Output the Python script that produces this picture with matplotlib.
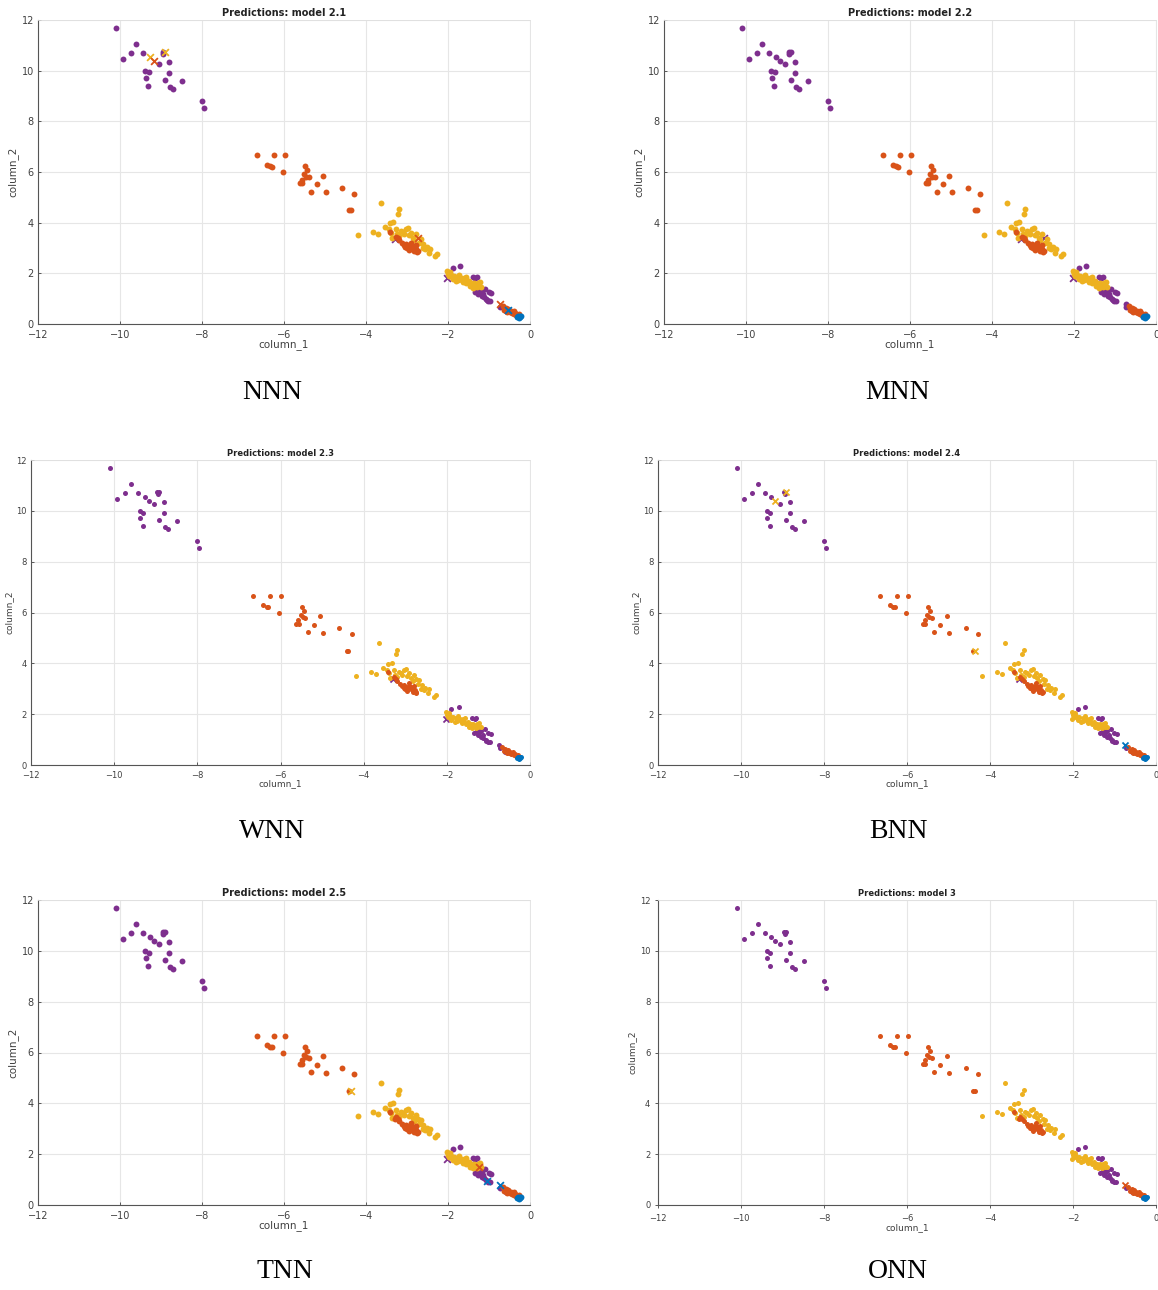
import matplotlib
matplotlib.use("Agg")
import matplotlib.pyplot as plt
import numpy as np

W, H = 1158, 1290

# MATLAB default colour order
colors = {"B": "#0072BD", "R": "#D95319", "Y": "#EDB120", "P": "#7E2F8E"}

# points that every model classifies correctly
purple_x = [-10.09, -9.92, -9.73, -9.60, -9.43, -9.38, -9.37, -9.30, -9.31, -8.96, -8.95,
            -9.05, -8.91, -8.81, -8.81, -8.77, -8.71, -8.48, -8.00, -7.95,
            -1.89, -1.71, -1.39, -1.30, -1.35, -1.22, -1.09, -1.01, -0.94, -1.17, -1.07,
            -1.02, -1.26, -1.14, -1.30, -1.18, -1.12, -0.97, -0.72, -0.59, -1.33, -1.25]
purple_y = [11.69, 10.45, 10.71, 11.04, 10.69, 9.99, 9.73, 9.93, 9.40, 10.73, 10.65,
            10.28, 9.65, 10.33, 9.90, 9.36, 9.29, 9.60, 8.80, 8.54,
            2.22, 2.30, 1.84, 1.86, 1.25, 1.27, 1.40, 1.25, 1.21, 1.11, 0.98,
            0.92, 1.18, 1.18, 1.30, 1.35, 1.05, 0.90, 0.66, 0.52, 1.80, 1.40]

yellow_x = [-4.19, -3.83, -3.71, -3.64, -3.53, -3.41, -3.33, -3.23, -3.19, -3.44, -3.27,
            -3.15, -3.02, -2.97, -2.90, -2.79, -2.67, -2.60, -2.52, -2.44, -2.46,
            -2.32, -2.27, -2.86, -3.36, -3.07, -3.19, -3.40, -3.10, -2.95, -2.82, -2.70,
            -2.55, -3.25, -2.62,
            -2.02, -2.00, -1.93, -1.85, -1.77, -1.68, -1.60, -1.56, -1.52, -1.43, -1.35,
            -1.22, -1.19, -1.89, -1.81, -1.64, -1.47, -1.39, -1.72, -1.98, -1.90, -1.75,
            -1.66, -1.55, -1.45, -1.30, -1.28, -1.62, -1.50, -1.36, -1.95]
yellow_y = [3.50, 3.65, 3.57, 4.79, 3.82, 3.97, 4.03, 4.35, 4.54, 3.74, 3.74,
            3.67, 3.74, 3.78, 3.61, 3.54, 3.34, 3.15, 3.02, 2.98, 2.82,
            2.69, 2.75, 3.41, 3.41, 3.54, 3.48, 3.61, 3.62, 3.50, 3.30, 3.20,
            2.95, 3.55, 3.00,
            2.10, 1.97, 1.93, 1.88, 1.84, 1.80, 1.74, 1.84, 1.67, 1.61, 1.53,
            1.64, 1.48, 1.77, 1.70, 1.64, 1.51, 1.44, 1.93, 1.88, 1.85, 1.75,
            1.72, 1.60, 1.55, 1.45, 1.60, 1.80, 1.70, 1.62, 2.05]

red_x = [-6.66, -6.42, -6.33, -6.30, -6.25, -6.03, -5.98, -5.49, -5.44, -5.51, -5.47,
         -5.40, -5.57, -5.62, -5.56, -5.34, -5.20, -5.04, -4.98, -4.59, -4.29, -4.41,
         -3.42, -3.27, -3.19, -3.02, -2.98, -2.94, -2.90, -2.86, -2.77, -2.73, -3.04,
         -2.96, -2.82, -2.90, -2.79, -3.08, -3.00, -2.92, -3.12, -3.22, -2.85, -2.75,
         -0.67, -0.59, -0.53, -0.47, -0.42, -0.38, -0.34, -0.30, -0.63, -0.55, -0.45,
         -0.40, -0.50, -0.36, -0.28]
red_y = [6.66, 6.28, 6.23, 6.20, 6.66, 5.99, 6.66, 6.22, 6.07, 5.91, 5.82,
         5.80, 5.70, 5.55, 5.55, 5.22, 5.52, 5.86, 5.21, 5.38, 5.14, 4.50,
         3.65, 3.45, 3.32, 3.15, 3.08, 3.02, 3.06, 2.98, 2.95, 2.89, 3.02,
         2.92, 2.89, 3.21, 3.11, 3.10, 3.00, 3.12, 3.20, 3.40, 3.05, 2.85,
         0.72, 0.62, 0.60, 0.52, 0.46, 0.39, 0.35, 0.33, 0.56, 0.46, 0.42,
         0.50, 0.48, 0.45, 0.40]

blue_x = [-0.32, -0.27, -0.24, -0.25, -0.22, -0.29]
blue_y = [0.26, 0.22, 0.26, 0.33, 0.30, 0.30]

# points some models get wrong: true class and each model's prediction
cont_x = [-9.27, -9.17, -8.91, -2.73, -0.74, -0.53, -4.37, -1.24, -1.05, -3.29, -2.02]
cont_y = [10.54, 10.39, 10.75, 3.40, 0.79, 0.56, 4.50, 1.51, 0.94, 3.37, 1.80]
cont_true = ["P", "P", "P", "Y", "P", "R", "R", "Y", "P", "R", "Y"]
pred_21 = ["Y", "R", "Y", "R", "R", "B", "R", "Y", "P", "P", "P"]
pred_22 = ["P", "P", "P", "P", "P", "R", "R", "Y", "P", "P", "P"]
pred_23 = ["P", "P", "P", "Y", "P", "R", "R", "Y", "P", "P", "P"]
pred_24 = ["P", "Y", "Y", "Y", "B", "R", "Y", "Y", "P", "P", "Y"]
pred_25 = ["P", "P", "P", "Y", "B", "R", "Y", "R", "B", "R", "P"]
pred_3 = ["P", "P", "P", "Y", "R", "R", "R", "Y", "P", "R", "Y"]

titles = ["Predictions: model 2.1", "Predictions: model 2.2", "Predictions: model 2.3",
          "Predictions: model 2.4", "Predictions: model 2.5", "Predictions: model 3"]
captions = ["NNN", "MNN", "WNN", "BNN", "TNN", "ONN"]
preds = [pred_21, pred_22, pred_23, pred_24, pred_25, pred_3]

# axes boxes in pixels: left, right, top, bottom
boxes = [(38, 530, 20, 324), (664, 1156, 20, 324),
         (31, 530, 460, 765), (658, 1156, 460, 765),
         (38, 530, 900, 1205), (658, 1156, 900, 1205)]
cap_pos = [(272, 392), (898, 392), (272, 832), (898, 832), (285, 1272), (898, 1272)]
small = [False, False, True, True, False, True]

fig = plt.figure(figsize=(W / 100, H / 100), dpi=100)
fig.patch.set_facecolor("white")

groups = [("P", purple_x, purple_y), ("Y", yellow_x, yellow_y),
          ("R", red_x, red_y), ("B", blue_x, blue_y)]

for i in range(6):
    l, r, t, b = boxes[i]
    ax = fig.add_axes([l / W, 1 - b / H, (r - l) / W, (b - t) / H])
    fs = 6 if small[i] else 7
    ms = 13 if small[i] else 18
    pr = preds[i]
    for key, gx, gy in groups:
        ax.scatter(gx, gy, s=ms, color=colors[key], linewidths=0, zorder=3)
        # contested points correctly predicted in this model
        ok = [j for j in range(len(cont_x)) if cont_true[j] == key and pr[j] == key]
        if ok:
            ax.scatter([cont_x[j] for j in ok], [cont_y[j] for j in ok], s=ms,
                       color=colors[key], linewidths=0, zorder=3)
    for key in ["P", "Y", "R", "B"]:
        bad = [j for j in range(len(cont_x)) if pr[j] == key and cont_true[j] != key]
        if bad:
            # purple misses sit under the dense clusters, the others on top
            z = 2.9 if key == "P" else 4
            ax.scatter([cont_x[j] for j in bad], [cont_y[j] for j in bad], s=ms + 6,
                       marker="x", color=colors[key], linewidths=1.3, zorder=z)

    ax.set_xlim(-12, 0)
    ax.set_ylim(0, 12)
    ax.set_xticks(np.arange(-12, 1, 2))
    ax.set_yticks(np.arange(0, 13, 2))
    ax.grid(True, color="#e6e6e6", linewidth=0.8, zorder=0)
    ax.set_axisbelow(True)
    ax.tick_params(direction="out" if i == 5 else "in", length=2.5, width=0.6,
                   labelsize=fs, colors="#404040")
    ax.tick_params(axis="x", pad=4)
    ax.tick_params(axis="y", pad=3)
    for s in ["left", "bottom"]:
        ax.spines[s].set_color("#555555")
        ax.spines[s].set_linewidth(0.8)
    for s in ["top", "right"]:
        ax.spines[s].set_color("#e0e0e0")
        ax.spines[s].set_linewidth(0.6)
    ax.set_title(titles[i], fontsize=fs, fontweight="bold", color="#222222", pad=3)
    ax.set_xlabel("column_1", fontsize=fs + 0.5, color="#404040", labelpad=0)
    ax.set_ylabel("column_2", fontsize=fs + 0.5, color="#404040", labelpad=2)

    cx, cy = cap_pos[i]
    fig.text(cx / W, 1 - cy / H, captions[i], fontsize=20, family="Liberation Serif",
             ha="center", va="center", color="black")

fig.savefig("out.png", dpi=100)
